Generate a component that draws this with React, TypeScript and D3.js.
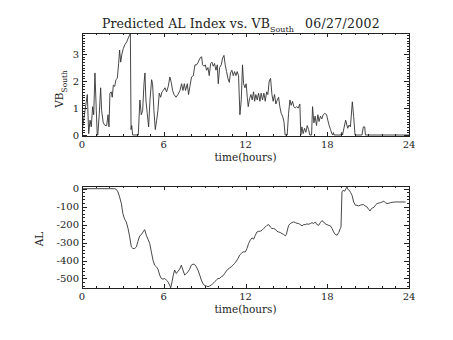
import * as d3 from "d3";
import React from "react";

// VB South (top panel)
const vbHours = [
  0.05, 0.22, 0.39, 0.49, 0.59, 0.68, 0.78, 0.86, 0.95, 1.05, 1.12, 1.16, 1.27, 1.37, 1.44, 1.56, 1.69, 1.81, 1.91, 1.98,
  2.05, 2.15, 2.22, 2.3, 2.4, 2.49, 2.59, 2.69, 2.76, 2.84, 2.93, 3.03, 3.15, 3.28, 3.4, 3.55, 3.6, 3.65, 3.72, 4.13,
  4.25, 4.35, 4.45, 4.55, 4.62, 4.69, 4.79, 4.89, 4.99, 5.11, 5.18, 5.28, 5.38, 5.48, 5.57, 5.67, 5.77, 5.87, 5.97, 6.09,
  6.21, 6.33, 6.45, 6.55, 6.65, 6.75, 6.9, 7.04, 7.19, 7.31, 7.41, 7.51, 7.6, 7.73, 7.82, 7.92, 8.04, 8.17, 8.29, 8.41,
  8.53, 8.66, 8.78, 8.85, 8.95, 9.05, 9.14, 9.24, 9.34, 9.44, 9.54, 9.63, 9.73, 9.83, 9.93, 10.0, 10.1, 10.22, 10.32, 10.42,
  10.51, 10.61, 10.71, 10.81, 10.9, 11.0, 11.1, 11.2, 11.3, 11.39, 11.49, 11.59, 11.69, 11.78, 11.86, 11.96, 12.05, 12.13, 12.2, 12.3,
  12.4, 12.49, 12.59, 12.67, 12.76, 12.86, 12.96, 13.06, 13.15, 13.25, 13.35, 13.45, 13.55, 13.64, 13.74, 13.84, 13.94, 14.03, 14.13, 14.23,
  14.33, 14.43, 14.52, 14.62, 14.72, 14.82, 14.91, 15.06, 15.16, 15.26, 15.35, 15.45, 15.55, 15.65, 15.75, 15.87, 15.99, 16.06, 16.14, 16.23,
  16.33, 16.43, 16.53, 16.63, 16.72, 16.85, 16.92, 17.02, 17.11, 17.21, 17.31, 17.4, 17.5, 17.6, 17.7, 17.82, 17.95, 18.04, 18.14, 18.24,
  18.34, 18.4, 18.45, 18.5, 19.0, 19.06, 19.12, 19.35, 19.5, 19.6, 19.7, 19.84, 19.94, 20.04, 20.55, 20.65, 20.75, 20.8, 24.0,
];
const vbValues = [
  0.3, 0.9, 1.5, 0.05, 0.55, 0.3, 1.05, 0.75, 2.3, 0.9, 0, 0, 0.8, 1.75, 0.9, 0.45, 0.35, 0.35, 0.75, 0.3,
  1.55, 1.6, 1.4, 1.85, 1.8, 2.05, 2.1, 2.65, 3.15, 2.7, 3.0, 3.2, 3.35, 3.45, 3.6, 3.77, 0.2, 0.35, 0, 0,
  1.3, 0.75, 0.9, 1.9, 2.3, 1.3, 0.8, 0.3, 1.3, 2.05, 1.9, 0.9, 0.2, 0.55, 0.9, 1.55, 1.4, 1.6, 1.65, 1.75,
  1.6, 1.8, 2.15, 1.95, 1.65, 1.5, 1.4, 1.5, 1.65, 1.9, 1.65, 1.9, 1.65, 1.9, 1.5, 1.8, 2.15, 2.2, 2.6, 2.6,
  2.7, 2.85, 2.9, 2.6, 2.55, 2.6, 2.4, 2.5, 2.2, 2.65, 2.7, 2.55, 2.65, 2.4, 2.6, 1.9, 2.5, 2.6, 2.85, 2.95,
  2.6, 2.35, 2.1, 1.95, 2.3, 2.4, 2.2, 2.35, 2.2, 2.35, 2.2, 0.75, 1.3, 2.6, 1.9, 1.75, 1.9, 1.4, 1.05, 1.35,
  1.5, 1.3, 1.6, 1.25, 1.5, 1.3, 1.55, 1.25, 1.55, 1.3, 1.55, 1.25, 1.6, 1.5, 2.0, 2.1, 1.5, 1.25, 1.5, 1.15,
  1.3, 1.4, 1.05, 0.8, 0.7, 0.5, 0, 0, 0.8, 1.3, 1.1, 1.25, 1.05, 1.0, 1.05, 1.0, 1.15, 0, 0.3, 0.05,
  0.25, 0.1, 0.35, 0.2, 0, 0, 1.05, 0.45, 0.7, 0.35, 0.75, 0.5, 0.7, 0.6, 0.75, 0.8, 0.75, 0.55, 0.35, 0.2,
  0.05, 0, 0.09, 0, 0, 0.1, 0, 0.55, 0.25, 0.37, 0.3, 1.23, 0.68, 0, 0, 0.3, 0.3, 0, 0,
];

// AL index (bottom panel)
const alHours = [
  0, 2.4, 2.52, 2.64, 2.76, 2.89, 3.0, 3.13, 3.25, 3.38, 3.5, 3.62, 3.74, 3.87, 3.99, 4.11, 4.23, 4.35, 4.48, 4.6,
  4.72, 4.84, 4.97, 5.09, 5.21, 5.33, 5.46, 5.58, 5.7, 5.82, 5.94, 6.07, 6.19, 6.31, 6.43, 6.51, 6.61, 6.7, 6.8, 6.92,
  7.05, 7.17, 7.29, 7.41, 7.54, 7.66, 7.78, 7.9, 8.02, 8.15, 8.27, 8.39, 8.51, 8.64, 8.76, 8.88, 9.0, 9.13, 9.25, 9.37,
  9.49, 9.61, 9.74, 9.86, 9.98, 10.1, 10.23, 10.35, 10.47, 10.59, 10.72, 10.84, 10.96, 11.08, 11.2, 11.33, 11.45, 11.57, 11.69, 11.82,
  11.99, 12.11, 12.23, 12.35, 12.48, 12.6, 12.72, 12.84, 12.97, 13.09, 13.21, 13.33, 13.46, 13.58, 13.7, 13.82, 13.94, 14.07, 14.19, 14.31,
  14.43, 14.55, 14.68, 14.8, 14.92, 15.0, 15.1, 15.17, 15.29, 15.41, 15.54, 15.66, 15.78, 15.9, 16.02, 16.15, 16.27, 16.39, 16.51, 16.63,
  16.76, 16.88, 17.0, 17.12, 17.25, 17.37, 17.49, 17.61, 17.74, 17.86, 17.98, 18.1, 18.23, 18.35, 18.47, 18.59, 18.72, 18.84, 18.96, 19.01,
  19.08, 19.16, 19.28, 19.38, 19.45, 19.52, 19.62, 19.72, 19.82, 19.94, 20.06, 20.18, 20.3, 20.43, 20.55, 20.67, 20.79, 20.92, 21.04, 21.14,
  21.24, 21.33, 21.43, 21.53, 21.65, 21.78, 21.9, 22.02, 22.15, 22.27, 22.39, 22.52, 22.64, 22.76, 23.0, 23.25, 23.5, 23.75,
];
const alValues = [
  0, 0, -4, -18, -46, -83, -139, -170, -185, -222, -268, -324, -333, -333, -324, -293, -263, -256, -241, -228,
  -259, -281, -305, -352, -398, -426, -435, -448, -481, -500, -504, -500, -509, -518, -537, -552, -518, -481, -453, -472,
  -459, -448, -426, -453, -481, -472, -463, -448, -426, -420, -422, -435, -453, -481, -509, -528, -540, -542, -546, -542,
  -537, -528, -518, -509, -500, -500, -490, -485, -472, -459, -448, -441, -435, -426, -416, -403, -389, -370, -361, -352,
  -352, -333, -305, -287, -274, -281, -259, -241, -237, -237, -231, -222, -213, -204, -200, -213, -222, -222, -226, -237,
  -241, -244, -250, -255, -263, -255, -222, -204, -194, -189, -185, -189, -193, -194, -200, -207, -200, -200, -196, -198,
  -194, -189, -194, -185, -200, -204, -189, -178, -185, -196, -200, -204, -207, -222, -241, -255, -259, -244, -222, -213,
  -18, -9, -14, 0, 9, -4, -9, -22, -37, -74, -92, -92, -96, -92, -89, -89, -96, -102, -115, -124,
  -111, -107, -104, -92, -83, -80, -78, -74, -70, -78, -83, -81, -78, -76, -74, -74, -74, -74,
];

const xTicks = [0, 6, 12, 18, 24];
const vbTicks = [0, 1, 2, 3];
const alTicks = [0, -100, -200, -300, -400, -500];

const W = 453;
const H = 340;
const left = 82;
const right = 409;
const font = "DejaVu Serif";

function Panel({ top, bottom, yDomain, yTicks, yMinorStep, hours, values, yLabel, ySub, yLabelX, yLabelY }) {
  const x = d3.scaleLinear().domain([0, 24]).range([left, right]);
  const y = d3.scaleLinear().domain(yDomain).range([bottom, top]);
  const pts = hours.map((h, i) => [h, values[i]]);
  const line = d3
    .line()
    .x((d) => x(d[0]))
    .y((d) => y(d[1]));

  const xMinor = d3.range(0, 25, 1);
  const lo = Math.ceil(yDomain[0] / yMinorStep) * yMinorStep;
  const yMinor = d3.range(lo, yDomain[1], yMinorStep).map((v) => Math.round(v / yMinorStep) * yMinorStep);

  return (
    <g>
      <path d={line(pts)} fill="none" stroke="#333" strokeWidth={0.9} />
      <g stroke="#222" strokeWidth={1} shapeRendering="crispEdges" fill="none">
        <rect x={left + 0.5} y={top + 0.5} width={right - left} height={bottom - top} />
        {xMinor.map((t) => {
          const len = t % 6 === 0 ? 4 : 2;
          const px = Math.round(x(t)) + 0.5;
          return (
            <g key={"x" + t}>
              <line x1={px} x2={px} y1={bottom} y2={bottom - len} />
              <line x1={px} x2={px} y1={top} y2={top + len} />
            </g>
          );
        })}
        {yMinor.map((v) => {
          const major = yTicks.includes(v);
          const len = major ? 5 : 2.5;
          const py = Math.round(y(v)) + 0.5;
          return (
            <g key={"y" + v}>
              <line x1={left} x2={left + len} y1={py} y2={py} />
              <line x1={right} x2={right - len} y1={py} y2={py} />
            </g>
          );
        })}
      </g>
      <g fontFamily={font} fontSize={10} fill="#222">
        {xTicks.map((t) => (
          <text key={"xl" + t} x={x(t)} y={bottom + 12} textAnchor="middle">
            {t}
          </text>
        ))}
        {yTicks.map((v) => (
          <text key={"yl" + v} x={left - 3} y={y(v) + 3.5} textAnchor="end">
            {v}
          </text>
        ))}
        <text x={(left + right) / 2} y={bottom + 25} textAnchor="middle" fontSize={10.5}>
          time(hours)
        </text>
        <text transform={`translate(${yLabelX},${yLabelY}) rotate(-90)`} textAnchor="middle" fontSize={10.5}>
          {yLabel}
          {ySub ? (
            <tspan fontSize={7.5} dy={3.5}>
              {ySub}
            </tspan>
          ) : null}
        </text>
      </g>
    </g>
  );
}

export default function App() {
  return (
    <svg width={W} height={H} style={{ position: "absolute", left: 0, top: 0, background: "#fff" }}>
      <rect width={W} height={H} fill="#fff" />
      <text x={102} y={28} fontFamily={font} fontSize={12.5} letterSpacing={0.1} fill="#222">
        Predicted AL Index vs. VB
        <tspan fontSize={8} dy={4} letterSpacing={0}>
          South
        </tspan>
        <tspan x={305} dy={-4} letterSpacing={0.3}>
          06/27/2002
        </tspan>
      </text>
      <Panel
        top={33}
        bottom={136}
        yDomain={[-0.037, 3.78]}
        yTicks={vbTicks}
        yMinorStep={0.1}
        hours={vbHours}
        values={vbValues}
        yLabel="VB"
        ySub="South"
        yLabelX={63}
        yLabelY={89}
      />
      <Panel
        top={186}
        bottom={288}
        yDomain={[-553, 15]}
        yTicks={alTicks}
        yMinorStep={20}
        hours={alHours}
        values={alValues}
        yLabel="AL"
        ySub={null}
        yLabelX={43}
        yLabelY={239}
      />
    </svg>
  );
}
